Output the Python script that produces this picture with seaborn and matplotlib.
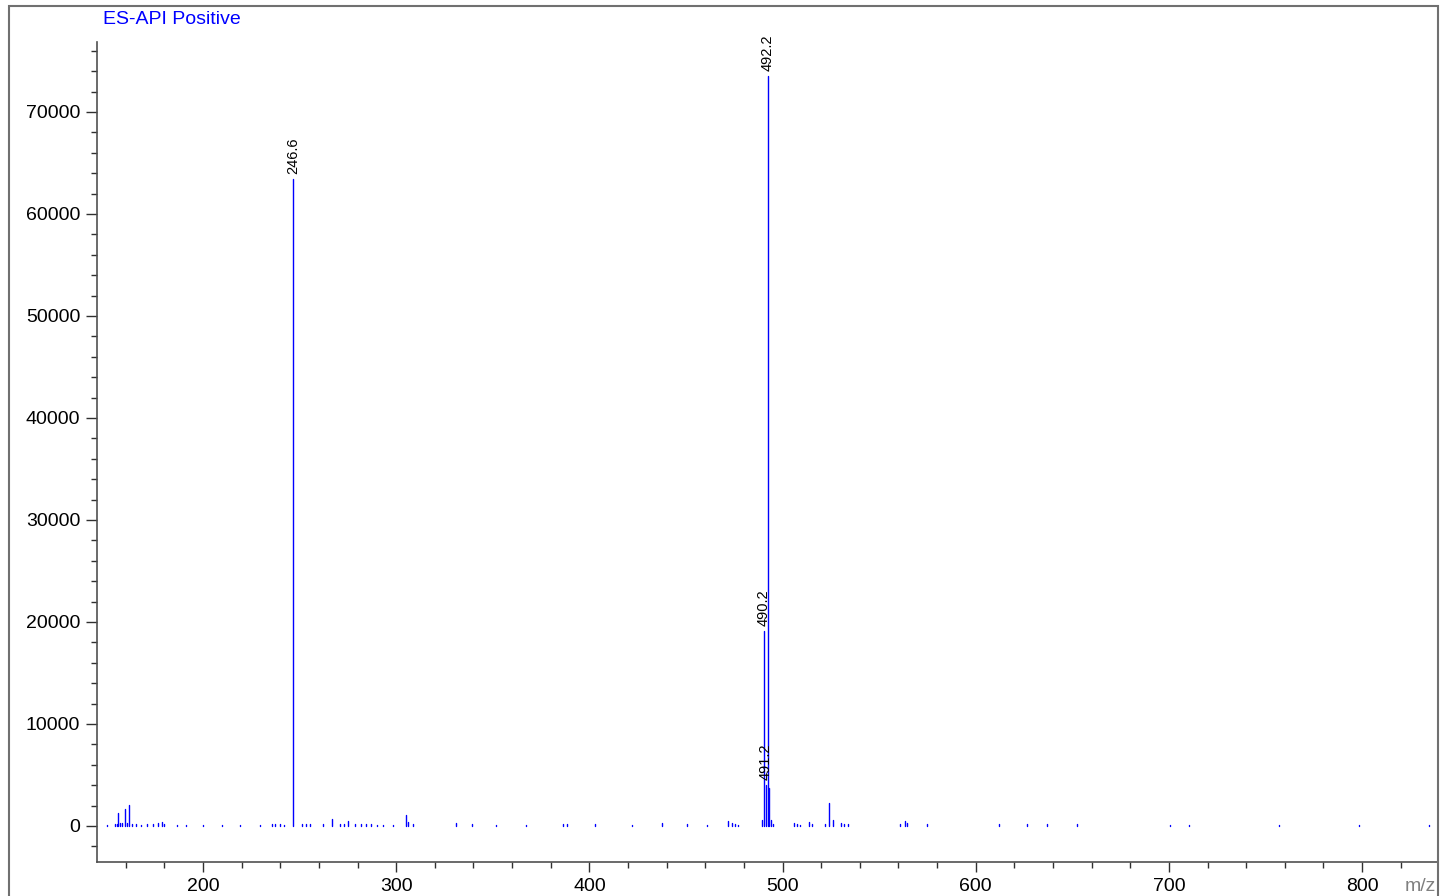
import numpy as np
import pandas as pd
import matplotlib
matplotlib.use("Agg")
import matplotlib.pyplot as plt
import seaborn as sns
from matplotlib.patches import Rectangle
from matplotlib.ticker import MultipleLocator

# ---- data ----
mz = [150.1, 154.4, 155.3, 156.1, 157.2, 158.3, 159.6, 160.5, 161.9, 163.0,
      165.5, 167.8, 171.2, 174.0, 176.5, 178.6, 179.8, 186.5, 191.0, 200.2,
      210.0, 219.2, 229.5, 235.7, 237.3, 240.0, 242.0, 246.6, 251.0, 253.2,
      255.6, 262.0, 266.9, 271.0, 273.0, 275.2, 278.5, 282.0, 284.5, 287.0,
      290.0, 293.0, 298.4, 304.9, 306.0, 308.8, 331.0, 339.1, 351.7, 367.2,
      386.4, 388.6, 403.0, 421.9, 437.4, 450.4, 460.8, 472.0, 473.8, 475.5,
      477.0, 489.2, 490.2, 491.2, 492.2, 493.2, 494.2, 495.2, 506.0, 507.5,
      509.0, 513.8, 515.0, 522.0, 524.2, 526.0, 530.0, 532.0, 534.0, 560.8,
      563.4, 564.6, 575.0, 612.3, 626.4, 637.1, 652.6, 700.6, 710.4, 757.0,
      798.6, 834.8]
intensity = [100, 150, 200, 1250, 250, 300, 1650, 300, 2050, 200,
             150, 100, 150, 150, 250, 400, 200, 100, 100, 100,
             100, 100, 100, 150, 200, 150, 100, 63400, 200, 150,
             150, 150, 700, 150, 200, 500, 150, 200, 150, 150,
             100, 100, 100, 1100, 400, 150, 250, 150, 100, 100,
             150, 150, 150, 100, 250, 200, 100, 500, 250, 150,
             100, 600, 19100, 4000, 73500, 3700, 600, 200, 300, 200,
             100, 400, 150, 150, 2300, 600, 300, 200, 150, 200,
             500, 300, 150, 200, 150, 200, 200, 100, 100, 100,
             100, 100]
label_mz = [246.6, 490.2, 491.2, 492.2]
label_text = ["246.6", "490.2", "491.2", "492.2"]
x_ticks = [200, 300, 400, 500, 600, 700, 800]
y_ticks = [0, 10000, 20000, 30000, 40000, 50000, 60000, 70000]
title = "ES-API Positive"
x_unit = "m/z"

# ---- style ----
sns.set_theme(style="ticks")
plt.rcParams['font.family'] = ['Liberation Sans', 'DejaVu Sans']

W, H = 1441, 896
fig = plt.figure(figsize=(W / 100, H / 100), dpi=100)
fig.patch.set_facecolor("white")
ax = fig.add_axes([97 / W, 1 - 862 / H, (1438 - 97) / W, (862 - 42) / H])
ax.set_facecolor("white")

n = len(mz)
df = pd.DataFrame({
    "mz": np.repeat(mz, 2),
    "intensity": np.ravel(np.column_stack([np.zeros(n), intensity])),
    "peak": np.repeat(np.arange(n), 2),
})
sns.lineplot(data=df, x="mz", y="intensity", units="peak", estimator=None,
             sort=False, color="#0000ff", linewidth=1.0, ax=ax, legend=False)

# peak labels
lookup = dict(zip(mz, intensity))
for m, t in zip(label_mz, label_text):
    ax.annotate(t, xy=(m, lookup[m]), xytext=(0, 4), textcoords="offset points",
                rotation=90, ha="center", va="bottom", fontsize=10.5,
                color="black", annotation_clip=False)

ax.set_xlim(145.1, 839.3)
ax.set_ylim(-3530, 76860)
ax.set_xticks(x_ticks)
ax.set_yticks(y_ticks)
ax.xaxis.set_minor_locator(MultipleLocator(20))
ax.yaxis.set_minor_locator(MultipleLocator(2000))
ax.tick_params(axis="both", which="major", labelsize=14, colors="#303030",
               labelcolor="black", direction="out", width=1)
ax.tick_params(axis="x", which="major", length=7.5, pad=4)
ax.tick_params(axis="y", which="major", length=8, pad=4)
ax.tick_params(axis="x", which="minor", length=4, width=1, colors="#303030")
ax.tick_params(axis="y", which="minor", length=4.5, width=1, colors="#303030")
ax.set_xlabel("")
ax.set_ylabel("")
for s in ["top", "right"]:
    ax.spines[s].set_visible(False)
for s in ["left", "bottom"]:
    ax.spines[s].set_color("#505050")
    ax.spines[s].set_linewidth(1.2)

fig.text(103 / W, 1 - 19 / H, title, color="#0000ff", fontsize=14,
         ha="left", va="center")
fig.text(1405 / W, 1 - 886 / H, x_unit, color="#808080", fontsize=14,
         ha="left", va="center")

frame = Rectangle((8.5 / W, -0.05), (1438 - 8.5) / W, 1 - 6.5 / H + 0.05,
                  transform=fig.transFigure, fill=False, edgecolor="#707070",
                  linewidth=1.5, zorder=10)
fig.patches.append(frame)

fig.savefig("out.png", dpi=100, facecolor="white")
